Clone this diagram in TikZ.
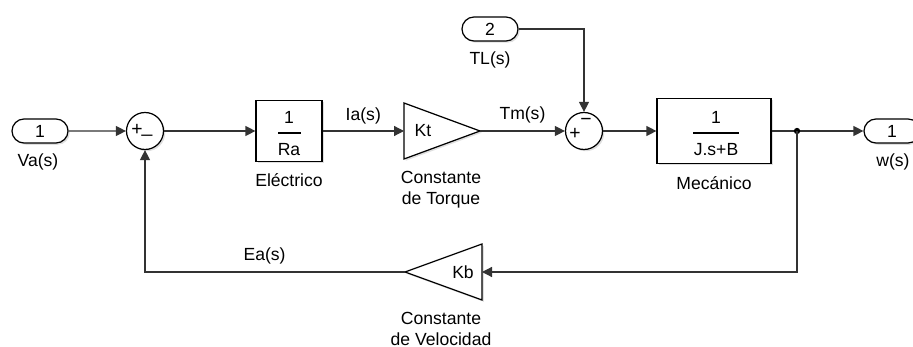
\documentclass[tikz,border=0pt]{standalone}
\usepackage{fontspec}
\setmainfont{Liberation Sans}
\usetikzlibrary{arrows.meta,shapes.misc,shadows}

\begin{document}
\begin{tikzpicture}[x=0.02cm, y=-0.02cm, >={Triangle[length=2mm,width=2mm]},
    font=\fontsize{10}{12}\selectfont,
    wire/.style={draw=black!80, line width=0.7pt},
    shade/.style={drop shadow={shadow xshift=1pt, shadow yshift=-1pt, opacity=0.25}},
    port/.style={draw, rounded rectangle, fill=white, minimum width=1.12cm, minimum height=0.48cm, inner sep=0pt, line width=0.7pt, shade},
    sumnode/.style={draw, circle, fill=white, minimum size=0.74cm, inner sep=0pt, line width=0.7pt, shade},
    blockbox/.style={draw, rectangle, fill=white, inner sep=0pt, line width=0.7pt, shade},
    gainbox/.style={draw, fill=white, line width=0.7pt, shade, line join=miter},
    signo/.style={inner sep=0pt, font=\fontsize{11}{12}\selectfont}]
    \useasboundingbox (0,0) rectangle (913,347);

    % entradas
    \node[port] (in1) at (40,131) {1};
    \node (lva) at (38,162) {Va(s)};
    \node[port] (in2) at (490,29) {2};
    \node (ltl) at (490,60) {TL(s)};

    % sumadores
    \node[sumnode] (sum1) at (145,131) {};
    \node[signo] (s1a) at (137,130) {+};
    \node[signo] (s1b) at (147,134) {\_};
    \node[sumnode] (sum2) at (584,131) {};
    \node[signo] (s2a) at (575,134) {+};
    \node[signo] (s2b) at (586,122) {\textminus};

    % bloque electrico
    \node[blockbox, minimum width=1.32cm, minimum height=1.22cm] (ra) at (289,131) {};
    \node (ranum) at (289,117) {1};
    \node (raden) at (289,150) {Ra};
    \draw[line width=0.7pt] (278,133) -- (301,133);
    \node (lra) at (289,180) {Eléctrico};

    % ganancia Kt
    \draw[gainbox] (404,103) -- (404,159) -- (480,131) -- cycle;
    \coordinate (ktin) at (404,131);
    \coordinate (ktout) at (480,131);
    \node (kt) at (423,131) {Kt};
    \node (lkt1) at (441,177) {Constante};
    \node (lkt2) at (441,200) {de Torque};

    % bloque mecanico
    \node[blockbox, minimum width=2.28cm, minimum height=1.3cm] (mec) at (714,131) {};
    \node (mecnum) at (716,117) {1};
    \node (mecden) at (716,150) {J.s+B};
    \draw[line width=0.7pt] (693,133) -- (739,133);
    \node (lmec) at (714,183) {Mecánico};

    % salida
    \node[port] (out1) at (892,131) {1};
    \node (lw) at (893,162) {w(s)};

    % ganancia Kb
    \draw[gainbox] (482,244) -- (482,300) -- (405,272) -- cycle;
    \coordinate (kbin) at (482,272);
    \coordinate (kbout) at (405,272);
    \node (kb) at (463,272) {Kb};
    \node (lkb1) at (441,318) {Constante};
    \node (lkb2) at (441,339) {de Velocidad};

    \coordinate (split) at (797,131);

    % conexiones
    \draw[wire, ->] (in1) -- (sum1);
    \draw[wire, ->] (sum1) -- (ra);
    \draw[wire, ->] (ra) -- node[above=0pt] {Ia(s)} (ktin);
    \draw[wire, ->] (ktout) -- node[above=1pt] {Tm(s)} (sum2);
    \draw[wire, ->] (in2) -| (sum2);
    \draw[wire, ->] (sum2) -- (mec);
    \draw[wire, ->] (mec) -- (out1);
    \fill[black] (split) circle (1.8pt);
    \draw[wire, ->] (split) |- (kbin);
    \draw[wire, ->] (kbout) -| node[pos=0.27, above=1pt] {Ea(s)} (sum1);
\end{tikzpicture}
\end{document}
